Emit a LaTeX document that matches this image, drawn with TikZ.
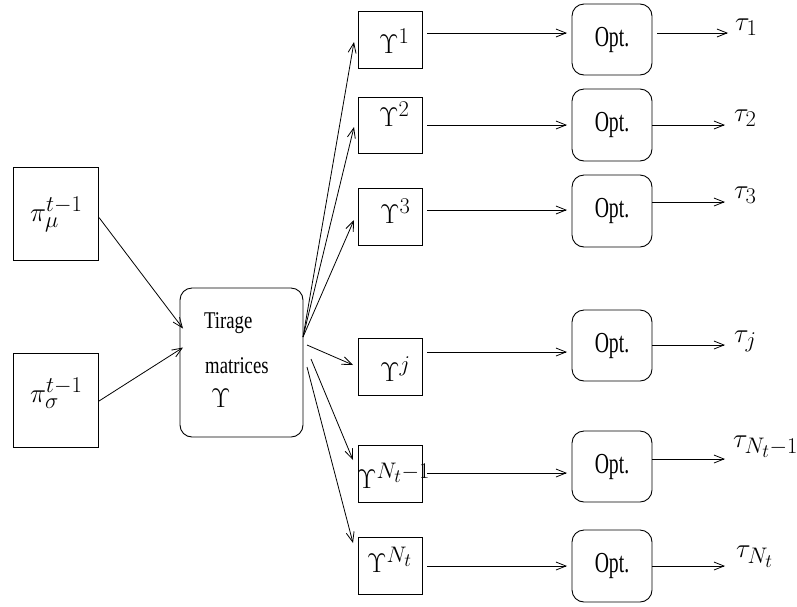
\RequirePackage{fix-cm}
\documentclass[tikz,border=0pt]{standalone}
\usepackage{fontspec}
\newfontfamily\condfont[FakeStretch=0.78]{Liberation Serif}
\newfontfamily\optfont[FakeStretch=0.68]{Liberation Serif}
\DeclareMathSizes{27}{27}{22.5}{19}
\usetikzlibrary{arrows.meta}
\begin{document}
\begin{tikzpicture}[x=1pt,y=-1pt,
  box/.style={draw,line width=0.9pt,inner sep=0pt,outer sep=0pt},
  rbox/.style={box,rounded corners=12pt,font=\fontsize{29}{32}\selectfont\optfont},
  mlbl/.style={inner sep=0pt,anchor=base west,font=\fontsize{27}{30}\selectfont},
  txt/.style={inner sep=0pt,anchor=base west,font=\fontsize{24}{28}\selectfont\condfont},
  arr/.style={line width=0.8pt,-{Straight Barb[length=10pt,width=8pt]}},
]
\useasboundingbox (0,0) rectangle (797,606);

% left boxes
\node[box,minimum width=85pt,minimum height=93pt] (pmu) at (55.5,213.5) {};
\node[box,minimum width=85pt,minimum height=94pt] (psig) at (55.5,400) {};
\node[mlbl] (pmul) at (30,221) {$\pi_\mu^{t-1}$};
\node[mlbl] (psigl) at (30,402) {$\pi_\sigma^{t-1}$};

% centre box
\node[box,rounded corners=12pt,minimum width=123pt,minimum height=149pt] (c) at (241.5,362.5) {};
\node[txt] (tir) at (204,328) {Tirage};
\node[txt] (mat) at (205,373) {matrices};
\node[mlbl] (ups) at (211,407) {$\Upsilon$};

% Upsilon boxes
\node[box,minimum width=64pt,minimum height=57pt] (u1) at (390,39.5) {};
\node[box,minimum width=64pt,minimum height=56pt] (u2) at (390,125) {};
\node[box,minimum width=64pt,minimum height=57pt] (u3) at (390,216.5) {};
\node[box,minimum width=64pt,minimum height=57pt] (uj) at (390,366.5) {};
\node[box,minimum width=64pt,minimum height=57pt] (uN1) at (390,473.5) {};
\node[box,minimum width=64pt,minimum height=57pt] (uN) at (390,565.5) {};
\node[mlbl] (u1l) at (379,53) {$\Upsilon^1$};
\node[mlbl] (u2l) at (379,126) {$\Upsilon^2$};
\node[mlbl] (u3l) at (380,223) {$\Upsilon^3$};
\node[mlbl] (ujl) at (380,381) {$\Upsilon^j$};
\node[mlbl] (uN1l) at (357,488) {$\Upsilon^{N_t-1}$};
\node[mlbl] (uNl) at (367,572) {$\Upsilon^{N_t}$};

% Opt boxes
\node[rbox,minimum width=80pt,minimum height=71pt] (o1) at (612,39.5) {Opt.};
\node[rbox,minimum width=80pt,minimum height=72pt] (o2) at (612,125) {Opt.};
\node[rbox,minimum width=80pt,minimum height=72pt] (o3) at (612,211) {Opt.};
\node[rbox,minimum width=80pt,minimum height=71pt] (oj) at (612,345.5) {Opt.};
\node[rbox,minimum width=80pt,minimum height=71pt] (oN1) at (612,466.5) {Opt.};
\node[rbox,minimum width=80pt,minimum height=72pt] (oN) at (612,566) {Opt.};

% tau labels
\node[mlbl] (t1) at (735,30) {$\tau_1$};
\node[mlbl] (t2) at (734,121) {$\tau_2$};
\node[mlbl] (t3) at (734,198) {$\tau_3$};
\node[mlbl] (tj) at (734,342) {$\tau_j$};
\node[mlbl] (tN1) at (733,447) {$\tau_{N_t-1}$};
\node[mlbl] (tN) at (736,557) {$\tau_{N_t}$};

% inputs
\draw[arr] ([shift={(1,4)}]pmu.east) -- ([shift={(3,-34)}]c.west);
\draw[arr] ([shift={(1,1)}]psig.east) -- ([shift={(3,-15)}]c.west);

% fan
\coordinate (f1) at (303,337);
\coordinate (fj) at (307,345);
\coordinate (fN1) at (311,359);
\coordinate (fN) at (307,367);
\draw[arr] (f1) -- ([shift={(-4,2.5)}]u1.west);
\draw[arr] (f1) -- ([shift={(-4,2)}]u2.west);
\draw[arr] (f1) -- ([shift={(-4,3.5)}]u3.west);
\draw[arr] (fj) -- ([shift={(-5,-1.5)}]uj.west);
\draw[arr] (fN1) -- ([shift={(-5,-13.5)}]uN1.west);
\draw[arr] (fN) -- ([shift={(-5,-22.5)}]uN.west);

% Upsilon -> Opt
\draw[arr,shorten <=5pt,shorten >=5pt] (u1.east |- 0,33) -- (o1.west |- 0,33);
\draw[arr,shorten <=5pt,shorten >=5pt] (u2.east |- 0,125) -- (o2.west |- 0,125);
\draw[arr,shorten <=5pt,shorten >=5pt] (u3.east |- 0,210) -- (o3.west |- 0,210);
\draw[arr,shorten <=5pt,shorten >=5pt] (uj.east |- 0,352) -- (oj.west |- 0,352);
\draw[arr,shorten <=5pt,shorten >=5pt] (uN1.east |- 0,473) -- (oN1.west |- 0,473);
\draw[arr,shorten <=5pt,shorten >=5pt] (uN.east |- 0,566) -- (oN.west |- 0,566);

% Opt -> tau
\draw[arr,shorten <=5pt,shorten >=7pt] (o1.east |- 0,33) -- (t1.west |- 0,33);
\draw[arr,shorten >=9pt] (o2.east |- 0,125) -- (t2.west |- 0,125);
\draw[arr,shorten >=9pt] (o3.east |- 0,202) -- (t3.west |- 0,202);
\draw[arr,shorten >=9pt] (oj.east |- 0,345) -- (tj.west |- 0,345);
\draw[arr,shorten >=8pt] (oN1.east |- 0,459) -- (tN1.west |- 0,459);
\draw[arr,shorten >=11pt] (oN.east |- 0,566) -- (tN.west |- 0,566);
\end{tikzpicture}
\end{document}
